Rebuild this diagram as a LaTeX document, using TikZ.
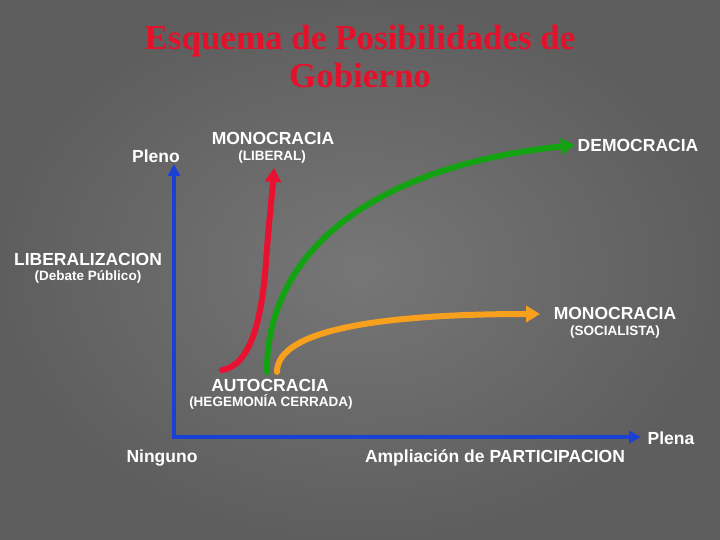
\documentclass[tikz,border=0pt]{standalone}
\usepackage{fontspec}
\setmainfont{Liberation Sans}
\newfontfamily\titlefont{Liberation Serif}
\usetikzlibrary{arrows.meta}
\definecolor{bgin}{RGB}{118,118,118}
\definecolor{bgout}{RGB}{94,94,94}
\definecolor{titlered}{RGB}{230,16,42}
\definecolor{cred}{RGB}{234,16,48}
\definecolor{cgreen}{RGB}{18,162,18}
\definecolor{corange}{RGB}{246,160,30}
\definecolor{cblue}{RGB}{26,64,214}
\begin{document}
\begin{tikzpicture}[x=1pt,y=-1pt,
  lbl/.style={anchor=base, text=white, font=\fontsize{17.5}{20}\selectfont\bfseries, inner sep=0pt},
  sub/.style={anchor=base, text=white, font=\fontsize{13.5}{16}\selectfont\bfseries, inner sep=0pt},
  ttl/.style={anchor=base, text=titlered, font=\titlefont\fontsize{35}{40}\selectfont\bfseries, inner sep=0pt},
  curve/.style={line width=6pt, line cap=round, -{Triangle[length=14pt,width=16pt]}},
  axis/.style={cblue, line width=4pt, {Triangle[length=12pt,width=12pt]}-{Triangle[length=12pt,width=12pt]}}
]
\shade[inner color=bgin, outer color=bgout] (0,0) rectangle (720,540);
\useasboundingbox (0,0) rectangle (720,540);

% title
\node[ttl] (t1) at (360,50) {Esquema de Posibilidades de};
\node[ttl] (t2) at (360,88) {Gobierno};

% axes
\coordinate (ytop) at (174,164);
\coordinate (orig) at (174,437);
\coordinate (xend) at (641,437);
\draw[axis] (ytop) -- (orig) -- (xend);

% labels
\node[lbl] (pleno) at (156,163) {Pleno};
\node[lbl] (monolib) at (273,145) {MONOCRACIA};
\node[sub] (liberal) at (272,161) {(LIBERAL)};
\node[lbl] (demo) at (638,152) {DEMOCRACIA};
\node[lbl] (liberaliz) at (88,265) {LIBERALIZACION};
\node[sub] (debate) at (88,280) {(Debate Público)};
\node[lbl] (monosoc) at (615,319) {MONOCRACIA};
\node[sub] (socialista) at (615,335) {(SOCIALISTA)};
\node[lbl] (auto) at (270,391) {AUTOCRACIA};
\node[sub] (hegem) at (271,406) {(HEGEMONÍA CERRADA)};
\node[lbl] (ninguno) at (162,462) {Ninguno};
\node[lbl] (ampl) at (495,462) {Ampliación de PARTICIPACION};
\node[lbl] (plena) at (671,444) {Plena};

% curves
\coordinate (rs) at (222,370);
\coordinate (rt) at (274,168);
\coordinate (gs) at (267,372);
\coordinate (gt) at (575,145);
\coordinate (os) at (277,372);
\coordinate (ot) at (540,314);
\draw[curve, cred] (rs) .. controls (250,366) and (262,320) .. (266,262)
                         .. controls (269,220) and (272,196) .. (rt);
\draw[curve, cgreen] (gs) .. controls (266,260) and (360,168) .. (gt);
\draw[curve, corange] (os) .. controls (277,330) and (380,314) .. (ot);
\end{tikzpicture}
\end{document}
